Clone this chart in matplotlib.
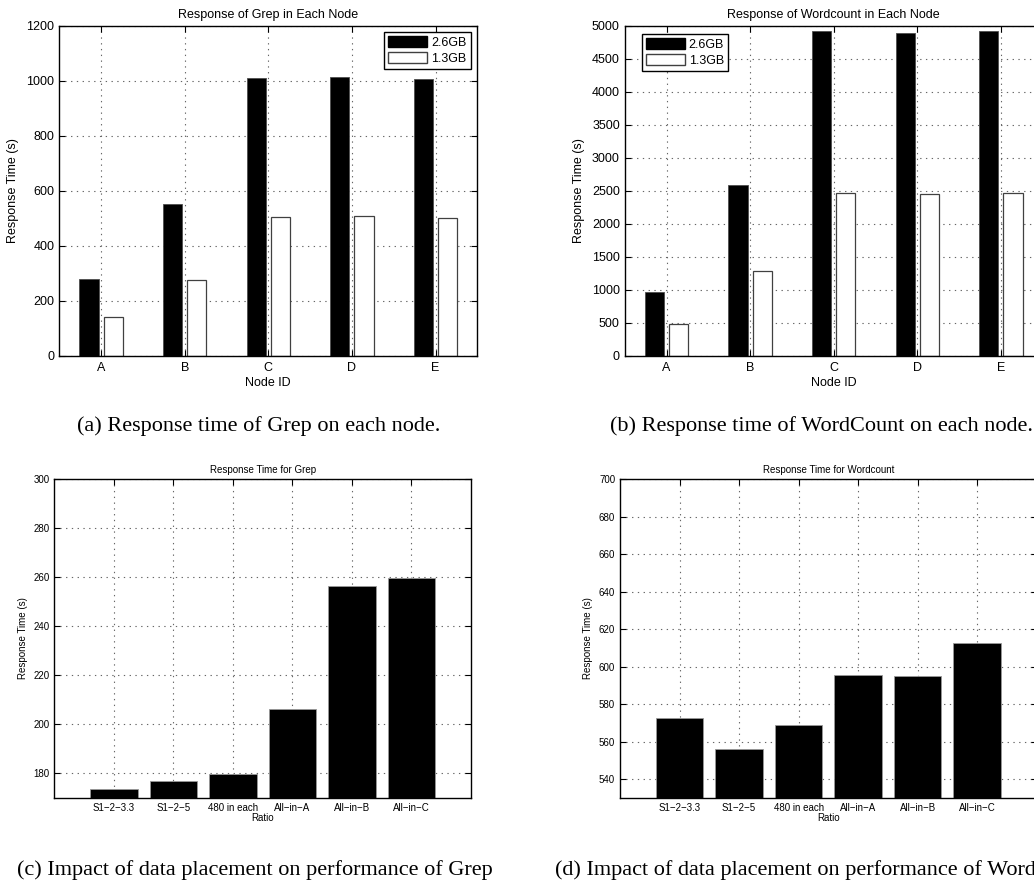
import numpy as np
import matplotlib
matplotlib.use('Agg')
import matplotlib.pyplot as plt
from matplotlib.patches import Patch

plt.rcParams['font.family'] = ['Liberation Sans', 'DejaVu Sans']

# ---- data ----
nodes = ['A', 'B', 'C', 'D', 'E']
sizes = ['2.6GB', '1.3GB']
grep_26 = [280, 553, 1011, 1014, 1006]
grep_13 = [141, 277, 505, 507, 502]
wc_26 = [961, 2584, 4924, 4899, 4924]
wc_13 = [485, 1289, 2463, 2447, 2463]

ratios = ['S1\u22122\u22123.3', 'S1\u22122\u22125', '480 in each',
          'All\u2212in\u2212A', 'All\u2212in\u2212B', 'All\u2212in\u2212C']
grep_ratio = [173.6, 176.7, 179.8, 206.2, 256.4, 259.6]
wc_ratio = [572.8, 556.1, 568.8, 595.4, 595.1, 612.6]

captions = [
    '(a) Response time of Grep on each node.',
    '(b) Response time of WordCount on each node.',
    '(c) Impact of data placement on performance of Grep',
    '(d) Impact of data placement on performance of WordCount',
]

W, H = 1034, 882
fig = plt.figure(figsize=(W / 100, H / 100), dpi=100)


def px_axes(l, t, r, b):
    # axes from pixel box (left, top, right, bottom)
    return fig.add_axes([l / W, 1 - b / H, (r - l) / W, (b - t) / H])


def style(ax, fs):
    ax.tick_params(direction='in', length=4, width=0.8, top=True, right=True,
                   labelsize=fs)
    ax.tick_params(axis='x', pad=4.5)
    ax.tick_params(axis='y', pad=3.5)
    ax.grid(True, linestyle=(0, (1.2, 4.0)), color='0.4', linewidth=0.8)
    ax.set_axisbelow(True)
    for s in ax.spines.values():
        s.set_linewidth(1.0)
        s.set_color('black')


def node_panel(ax, big, small, ymax, step, title, leg_loc, leg_anchor):
    x = np.arange(1, len(nodes) + 1)
    ax.bar(x - 0.145, big, width=0.23, color='black', edgecolor='0.3',
           linewidth=0.6)
    ax.bar(x + 0.145, small, width=0.23, color='white', edgecolor='0.25',
           linewidth=0.9)
    ax.set_xlim(0.5, 5.5)
    ax.set_ylim(0, ymax)
    ax.set_yticks(np.arange(0, ymax + 1, step))
    ax.set_xticks(x)
    ax.set_xticklabels(nodes)
    style(ax, 9)
    ax.set_title(title, fontsize=9, pad=6)
    ax.set_xlabel('Node ID', fontsize=9, labelpad=2)
    ax.set_ylabel('Response Time (s)', fontsize=9, labelpad=5)
    handles = [Patch(facecolor='black', edgecolor='black'),
               Patch(facecolor='white', edgecolor='0.25')]
    leg = ax.legend(handles, sizes, loc=leg_loc, bbox_to_anchor=leg_anchor,
                    borderaxespad=0, fontsize=9, fancybox=False,
                    edgecolor='black', framealpha=1, handlelength=3.1,
                    handleheight=0.95, handletextpad=0.3, labelspacing=0.25,
                    borderpad=0.35)
    leg.get_frame().set_linewidth(1.0)


def ratio_panel(ax, vals, ylo, yhi, title):
    x = np.arange(1, len(ratios) + 1)
    ax.bar(x, vals, width=0.8, color='black', edgecolor='0.6', linewidth=0.6)
    ax.set_xlim(0, 7)
    ax.set_ylim(ylo, yhi)
    ax.set_yticks(np.arange(ylo + 10, yhi + 1, 20))
    ax.set_xticks(x)
    ax.set_xticklabels(ratios)
    style(ax, 7)
    ax.tick_params(axis='x', pad=3.5)
    ax.set_title(title, fontsize=7, pad=4.5)
    ax.set_xlabel('Ratio', fontsize=7, labelpad=0.5)
    ax.set_ylabel('Response Time (s)', fontsize=7, labelpad=4)


ax_a = px_axes(59.3, 26, 477.3, 355.7)
node_panel(ax_a, grep_26, grep_13, 1200, 200, 'Response of Grep in Each Node',
           'upper right', (0.984, 0.982))

ax_b = px_axes(624.7, 26, 1042.7, 355.7)
node_panel(ax_b, wc_26, wc_13, 5000, 500, 'Response of Wordcount in Each Node',
           'upper left', (0.041, 0.976))

ax_c = px_axes(54.3, 479.3, 471, 797.7)
ratio_panel(ax_c, grep_ratio, 170, 300, 'Response Time for Grep')

ax_d = px_axes(620, 479.3, 1036.7, 797.7)
ratio_panel(ax_d, wc_ratio, 530, 700, 'Response Time for Wordcount')

# sub-figure captions (serif, like the paper); (d) runs off the page as in the source
cap_pos = [(76.7, 431.5), (610, 431.5), (16.7, 875), (555, 875)]
for (cx, cy), txt in zip(cap_pos, captions):
    fig.text(cx / W, 1 - cy / H, txt, family='Liberation Serif', fontsize=16,
             ha='left', va='baseline')

fig.savefig('out.png', dpi=100)
